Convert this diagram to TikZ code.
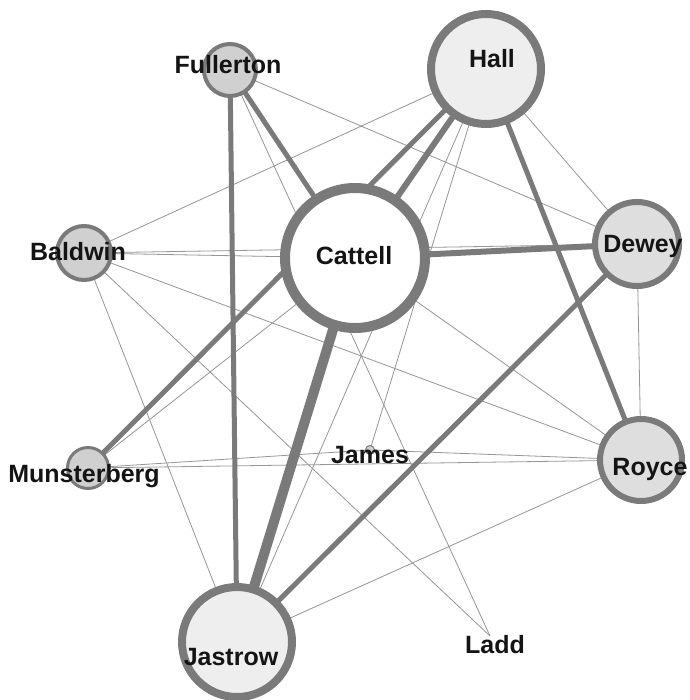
\documentclass[tikz,border=0pt]{standalone}
\usepackage{fontspec}
\setmainfont{Liberation Sans}
\definecolor{edgegray}{RGB}{122,122,122}
\definecolor{thingray}{RGB}{150,150,150}
\definecolor{fillA}{RGB}{208,208,208}
\definecolor{fillB}{RGB}{222,222,222}
\definecolor{fillC}{RGB}{238,238,238}
\pgfdeclarelayer{bg}
\pgfsetlayers{bg,main}
\tikzset{
  vert/.style={circle, draw=edgegray, inner sep=0pt},
  lbl/.style={font=\fontsize{25}{30}\selectfont\bfseries, anchor=base, text=black!92, inner sep=0pt},
  thinedge/.style={draw=thingray, line width=0.8pt},
  heavy/.style={draw=edgegray, line width=#1},
}
\begin{document}
\begin{tikzpicture}[x=1pt,y=-1pt]
\useasboundingbox (0,0) rectangle (689,700);
% vertices
\node[vert, fill=fillA, line width=4pt, minimum size=52pt] (fullerton) at (230,70) {};
\node[vert, fill=fillA, line width=4pt, minimum size=54pt] (baldwin) at (84,253) {};
\node[vert, fill=white, line width=10pt, minimum size=140pt] (cattell) at (355,258) {};
\node[vert, fill=fillC, line width=8pt, minimum size=110pt] (hall) at (486,69) {};
\node[vert, fill=fillB, line width=6pt, minimum size=84pt] (dewey) at (637,244) {};
\node[vert, fill=fillB, line width=6pt, minimum size=82pt] (royce) at (641,460) {};
\node[vert, fill=fillA, line width=1pt, minimum size=9pt] (james) at (370,450) {};
\node[vert, fill=fillA, line width=3pt, minimum size=41pt] (munsterberg) at (88,468) {};
\node[vert, fill=fillC, line width=8pt, minimum size=110pt] (jastrow) at (237,642) {};
\coordinate (ladd) at (490,636);
% connectors
\begin{pgfonlayer}{bg}
\fill[white] (0,0) rectangle (689,700);
\draw[thinedge] (fullerton.center) -- (dewey.center);
\draw[thinedge] (fullerton.center) -- (ladd);
\draw[thinedge] (baldwin.center) -- (hall.center);
\draw[thinedge] (baldwin.center) -- (cattell.center);
\draw[thinedge] (baldwin.center) -- (dewey.center);
\draw[thinedge] (baldwin.center) -- (royce.center);
\draw[thinedge] (baldwin.center) -- (ladd);
\draw[thinedge] (baldwin.center) -- (jastrow.center);
\draw[thinedge] (munsterberg.center) -- (cattell.center);
\draw[thinedge] (munsterberg.center) -- (james.center);
\draw[thinedge] (munsterberg.center) -- (royce.center);
\draw[thinedge] (james.center) -- (royce.center);
\draw[thinedge] (hall.center) -- (james.center);
\draw[thinedge] (hall.center) -- (jastrow.center);
\draw[thinedge] (hall.center) -- (dewey.center);
\draw[thinedge] (dewey.center) -- (royce.center);
\draw[thinedge] (cattell.center) -- (royce.center);
\draw[thinedge] (royce.center) -- (jastrow.center);
\draw[heavy=5pt] (fullerton.center) -- (jastrow.center);
\draw[heavy=5pt] (fullerton.center) -- (cattell.center);
\draw[heavy=6pt] (hall.center) -- (cattell.center);
\draw[heavy=5pt] (munsterberg.center) -- (hall.center);
\draw[heavy=6pt] (cattell.center) -- (dewey.center);
\draw[heavy=5pt] (dewey.center) -- (jastrow.center);
\draw[heavy=5pt] (hall.center) -- (royce.center);
\draw[heavy=10pt] (cattell.center) -- (jastrow.center);
\end{pgfonlayer}
% labels
\node[lbl] (lfullerton) at (228,74) {Fullerton};
\node[lbl] (lbaldwin) at (78,260) {Baldwin};
\node[lbl] (lcattell) at (354,265) {Cattell};
\node[lbl] (lhall) at (492,68) {Hall};
\node[lbl] (ldewey) at (643,253) {Dewey};
\node[lbl] (lroyce) at (650,475) {Royce};
\node[lbl] (ljames) at (370,463) {James};
\node[lbl] (lmunsterberg) at (84,482) {Munsterberg};
\node[lbl] (ljastrow) at (231,665) {Jastrow};
\node[lbl] (lladd) at (495,653) {Ladd};
\end{tikzpicture}
\end{document}
